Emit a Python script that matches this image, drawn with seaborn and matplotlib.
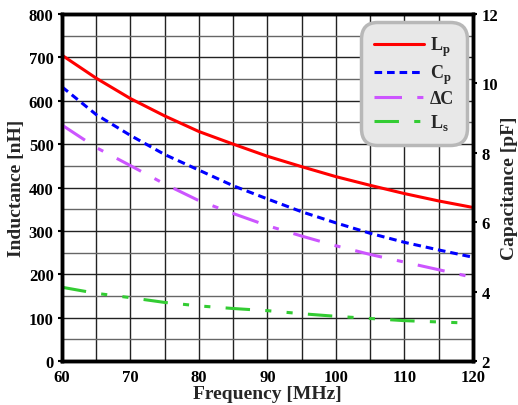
import matplotlib
matplotlib.use("Agg")
import matplotlib.pyplot as plt
import seaborn as sns
import pandas as pd

freq = [60, 65, 70, 75, 80, 85, 90, 95, 100, 105, 110, 115, 120]
lp_nH = [705, 652, 605, 565, 529, 500, 472, 448, 425, 405, 386, 369, 354]
ls_nH = [170, 156, 146, 135, 127, 121, 116, 109, 103, 98, 93, 90, 87]
cp_pF = [9.9, 9.1, 8.5, 7.95, 7.5, 7.05, 6.67, 6.3, 5.98, 5.68, 5.42, 5.2, 4.99]
dc_pF = [8.8, 8.15, 7.63, 7.1, 6.62, 6.25, 5.9, 5.6, 5.32, 5.07, 4.85, 4.63, 4.41]

df = pd.DataFrame({"f": freq, "Lp": lp_nH, "Ls": ls_nH, "Cp": cp_pF, "dC": dc_pF})

sns.set_style("white")
plt.rcParams['font.family'] = ['Liberation Serif', 'DejaVu Serif']
plt.rcParams['font.weight'] = 'bold'
plt.rcParams['mathtext.fontset'] = 'custom'
plt.rcParams['mathtext.rm'] = 'Liberation Serif:bold'

fig = plt.figure(figsize=(5.18, 4.06), dpi=100)
ax = fig.add_axes([0.1197, 0.1084, 0.7933, 0.8546])
ax2 = ax.twinx()

sns.lineplot(data=df, x="f", y="Lp", ax=ax, color="#ff0000", lw=2.2, legend=False)
sns.lineplot(data=df, x="f", y="Ls", ax=ax, color="#33cc33", lw=2.2, legend=False)
ax.lines[-1].set_dashes([8, 5, 2, 5, 2, 5])
sns.lineplot(data=df, x="f", y="Cp", ax=ax2, color="#0000ff", lw=2.2, legend=False)
ax2.lines[-1].set_dashes([2.5, 1.6])
sns.lineplot(data=df, x="f", y="dC", ax=ax2, color="#cc55ff", lw=2.2, legend=False)
ax2.lines[-1].set_dashes([9, 5, 2, 5])

ax.set_xlim(60, 120)
ax.set_ylim(0, 800)
ax2.set_ylim(2, 12)
ax.set_xticks(range(60, 121, 10))
ax.set_yticks(range(0, 801, 100))
ax2.set_yticks(range(2, 13, 2))

for x in range(60, 121, 5):
    ax.axvline(x, color="#222222", lw=1.0, zorder=0)
for i, y in enumerate(range(0, 801, 50)):
    ax.axhline(y, color="#222222" if i % 2 == 0 else "#666666", lw=1.0, zorder=0)

for a in (ax, ax2):
    for s in a.spines.values():
        s.set_linewidth(2.5)
        s.set_color("black")
    a.tick_params(labelsize=12, width=1.5, length=3, pad=3, direction="out", colors="black")
    for t in a.get_xticklabels() + a.get_yticklabels():
        t.set_fontweight("bold")

ax.set_xlabel("Frequency [MHz]", fontsize=14, fontweight="bold", labelpad=0)
ax.set_ylabel("Inductance [nH]", fontsize=14, fontweight="bold", labelpad=3)
ax2.set_ylabel("Capacitance [pF]", fontsize=14, fontweight="bold", labelpad=2)

handles = [ax.lines[0], ax2.lines[0], ax2.lines[1], ax.lines[1]]
labels = ["L$_\\mathregular{p}$", "C$_\\mathregular{p}$", "ΔC", "L$_\\mathregular{s}$"]
leg = ax2.legend(handles, labels, loc="upper right", bbox_to_anchor=(0.978, 0.968),
                 borderaxespad=0, fontsize=13, handlelength=2.8, labelspacing=0.25,
                 borderpad=0.55, frameon=True, fancybox=True, facecolor="#e8e8e8",
                 edgecolor="#b8b8b8", framealpha=1.0, handletextpad=0.3)
leg.get_frame().set_linewidth(2.5)
leg.get_frame().set_boxstyle("round,pad=0.15,rounding_size=0.9")

fig.savefig("out.png", dpi=100)
